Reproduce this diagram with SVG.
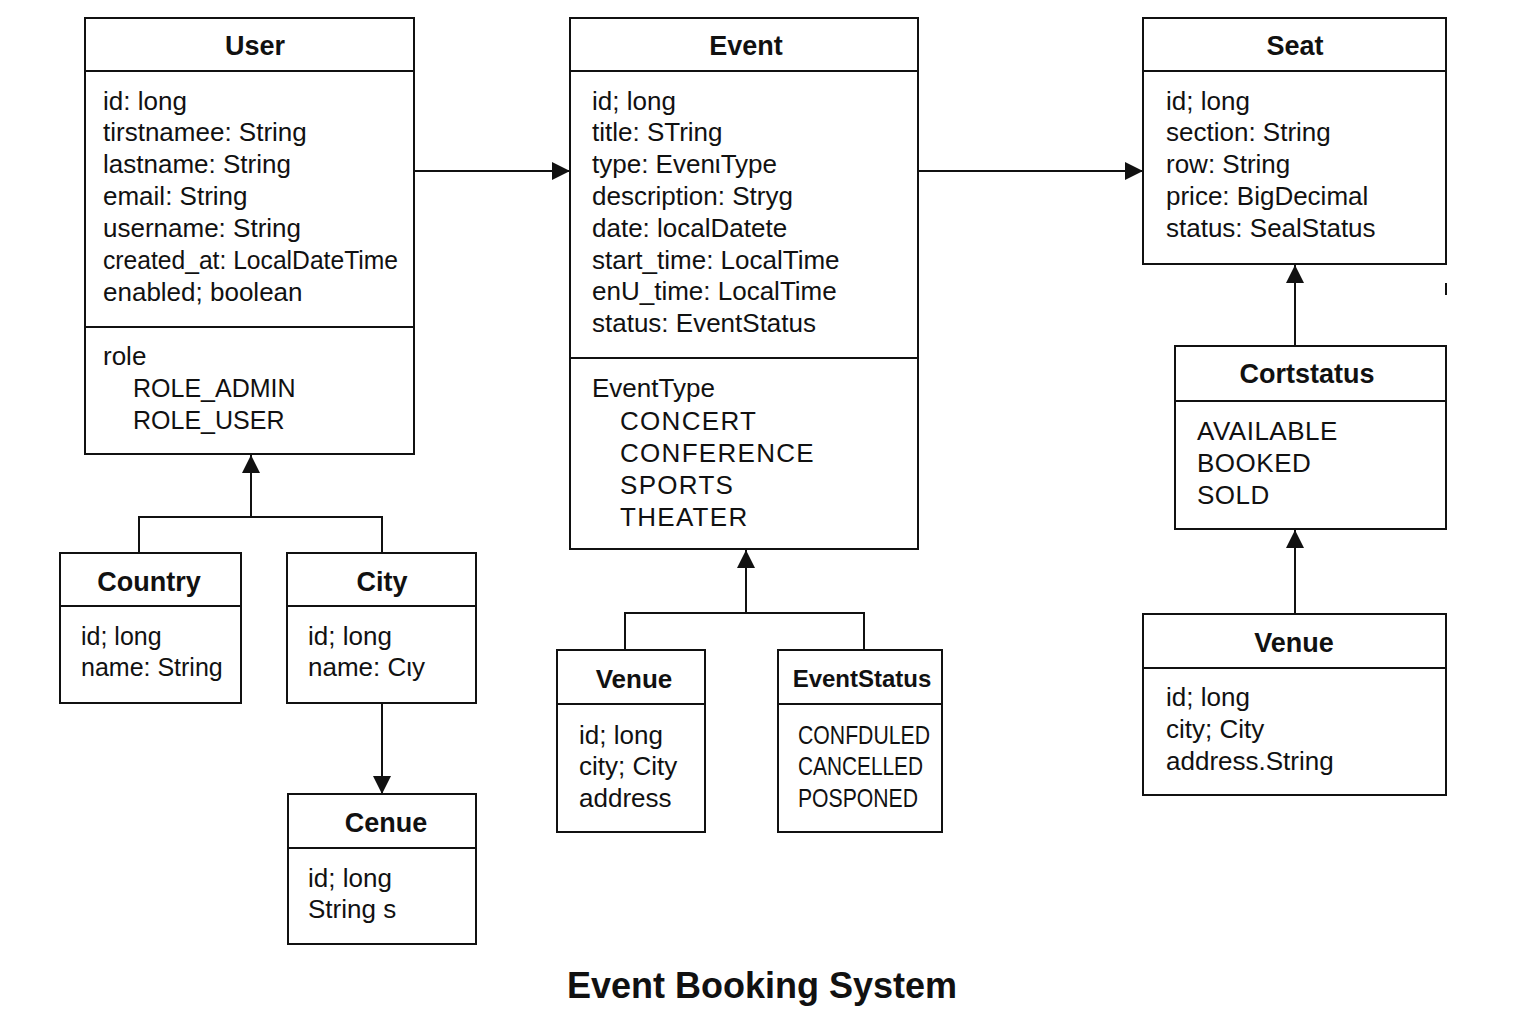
<svg xmlns="http://www.w3.org/2000/svg" width="1536" height="1024" viewBox="0 0 1536 1024">
<defs>
<style>
.box{fill:#fff;stroke:#111;stroke-width:2}
.div{stroke:#111;stroke-width:2}
.conn{fill:none;stroke:#111;stroke-width:2}
.t{font-family:"Liberation Sans",Arial,sans-serif;font-weight:bold;font-size:27px;fill:#111;text-anchor:middle}
.a{font-family:"Liberation Sans",Arial,sans-serif;font-size:26px;fill:#111}
.s{font-family:"Liberation Sans",Arial,sans-serif;font-size:25px;fill:#111}
.e{font-family:"Liberation Sans",Arial,sans-serif;font-size:26px;fill:#111;letter-spacing:1.3px}
</style>
<marker id="arr" viewBox="0 0 18 18" refX="18" refY="9" markerWidth="18" markerHeight="18" markerUnits="userSpaceOnUse" orient="auto">
<path d="M0,0 L18,9 L0,18 z" fill="#111"/>
</marker>
</defs>
<rect width="1536" height="1024" fill="#fff"/>

<g id="connectors">
<line class="conn" x1="415" y1="171" x2="570" y2="171" marker-end="url(#arr)"/>
<line class="conn" x1="918" y1="171" x2="1143" y2="171" marker-end="url(#arr)"/>
<path class="conn" d="M139,553 V517 H382 V553"/>
<line class="conn" x1="251" y1="517" x2="251" y2="455" marker-end="url(#arr)"/>
<line class="conn" x1="382" y1="703" x2="382" y2="794" marker-end="url(#arr)"/>
<path class="conn" d="M625,650 V613 H864 V650"/>
<line class="conn" x1="746" y1="613" x2="746" y2="550" marker-end="url(#arr)"/>
<line class="conn" x1="1295" y1="346" x2="1295" y2="265" marker-end="url(#arr)"/>
<line class="conn" x1="1295" y1="614" x2="1295" y2="530" marker-end="url(#arr)"/>
<line x1="1446" y1="283" x2="1446" y2="295" stroke="#111" stroke-width="2"/>
</g>

<g id="user">
<rect class="box" x="85" y="18" width="329" height="436"/>
<line class="div" x1="85" y1="71" x2="414" y2="71"/>
<line class="div" x1="85" y1="327" x2="414" y2="327"/>
<text class="t" x="255" y="55">User</text>
<text class="a" x="103" y="110">id: long</text>
<text class="a" x="103" y="141">tirstnamee: String</text>
<text class="a" x="103" y="173">lastname: String</text>
<text class="a" x="103" y="205">email: String</text>
<text class="a" x="103" y="237">username: String</text>
<text class="a" x="103" y="269" textLength="295" lengthAdjust="spacingAndGlyphs">created_at: LocalDateTime</text>
<text class="a" x="103" y="301">enabled; boolean</text>
<text class="a" x="103" y="365">role</text>
<text class="s" x="133" y="397">ROLE_ADMIN</text>
<text class="s" x="133" y="429">ROLE_USER</text>
</g>

<g id="event">
<rect class="box" x="570" y="18" width="348" height="531"/>
<line class="div" x1="570" y1="71" x2="918" y2="71"/>
<line class="div" x1="570" y1="358" x2="918" y2="358"/>
<text class="t" x="746" y="55">Event</text>
<text class="a" x="592" y="110">id; long</text>
<text class="a" x="592" y="141">title: STring</text>
<text class="a" x="592" y="173">type: EvenιType</text>
<text class="a" x="592" y="205">description: Stryg</text>
<text class="a" x="592" y="237">date: localDatete</text>
<text class="a" x="592" y="269">start_time: LocalTime</text>
<text class="a" x="592" y="300">enU_time: LocalTime</text>
<text class="a" x="592" y="332">status: EventStatus</text>
<text class="a" x="592" y="397">EventType</text>
<text class="e" x="620" y="430">CONCERT</text>
<text class="e" x="620" y="462">CONFERENCE</text>
<text class="e" x="620" y="494">SPORTS</text>
<text class="e" x="620" y="526">THEATER</text>
</g>

<g id="seat">
<rect class="box" x="1143" y="18" width="303" height="246"/>
<line class="div" x1="1143" y1="71" x2="1446" y2="71"/>
<text class="t" x="1295" y="55">Seat</text>
<text class="a" x="1166" y="110">id; long</text>
<text class="a" x="1166" y="141">section: String</text>
<text class="a" x="1166" y="173">row: String</text>
<text class="a" x="1166" y="205">price: BigDecimal</text>
<text class="a" x="1166" y="237">status: SealStatus</text>
</g>

<g id="cortstatus">
<rect class="box" x="1175" y="346" width="271" height="183"/>
<line class="div" x1="1175" y1="401" x2="1446" y2="401"/>
<text class="t" x="1307" y="383">Cortstatus</text>
<text class="a" x="1197" y="440" letter-spacing="0.5">AVAILABLE</text>
<text class="a" x="1197" y="472" letter-spacing="0.5">BOOKED</text>
<text class="a" x="1197" y="504" letter-spacing="0.5">SOLD</text>
</g>

<g id="venue-right">
<rect class="box" x="1143" y="614" width="303" height="181"/>
<line class="div" x1="1143" y1="668" x2="1446" y2="668"/>
<text class="t" x="1294" y="652">Venue</text>
<text class="a" x="1166" y="706">id; long</text>
<text class="a" x="1166" y="738">city; City</text>
<text class="a" x="1166" y="770">address.String</text>
</g>

<g id="country">
<rect class="box" x="60" y="553" width="181" height="150"/>
<line class="div" x1="60" y1="606" x2="241" y2="606"/>
<text class="t" x="149" y="591">Country</text>
<text class="s" x="81" y="645">id; long</text>
<text class="s" x="81" y="676">name: String</text>
</g>

<g id="city">
<rect class="box" x="287" y="553" width="189" height="150"/>
<line class="div" x1="287" y1="606" x2="476" y2="606"/>
<text class="t" x="382" y="591">City</text>
<text class="a" x="308" y="645">id; long</text>
<text class="a" x="308" y="676">name: Cιy</text>
</g>

<g id="cenue">
<rect class="box" x="288" y="794" width="188" height="150"/>
<line class="div" x1="288" y1="848" x2="476" y2="848"/>
<text class="t" x="386" y="832">Cenue</text>
<text class="a" x="308" y="887">id; long</text>
<text class="a" x="308" y="918">String s</text>
</g>

<g id="venue-mid">
<rect class="box" x="557" y="650" width="148" height="182"/>
<line class="div" x1="557" y1="704" x2="705" y2="704"/>
<text class="t" x="634" y="688" style="font-size:26px">Venue</text>
<text class="a" x="579" y="744">id; long</text>
<text class="a" x="579" y="775">city; City</text>
<text class="a" x="579" y="807">address</text>
</g>

<g id="eventstatus">
<rect class="box" x="778" y="650" width="164" height="182"/>
<line class="div" x1="778" y1="704" x2="942" y2="704"/>
<text class="t" x="862" y="687" style="font-size:24px">EventStatus</text>
<text class="a" x="798" y="744" textLength="132" lengthAdjust="spacingAndGlyphs">CONFDULED</text>
<text class="a" x="798" y="775" textLength="125" lengthAdjust="spacingAndGlyphs">CANCELLED</text>
<text class="a" x="798" y="807" textLength="120" lengthAdjust="spacingAndGlyphs">POSPONED</text>
</g>

<text x="762" y="998" style="font-family:'Liberation Sans',Arial,sans-serif;font-weight:bold;font-size:36px;fill:#111;text-anchor:middle">Event Booking System</text>
</svg>
